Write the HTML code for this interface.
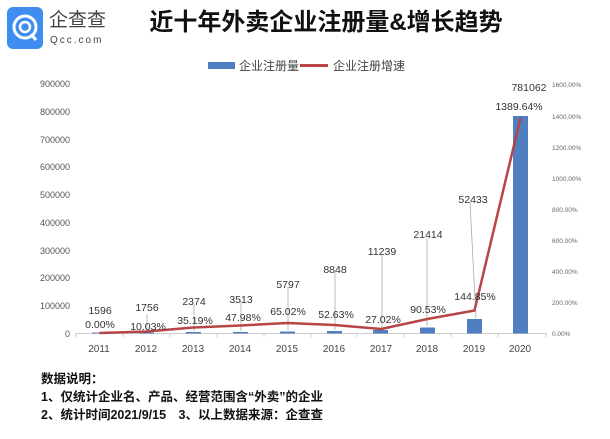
<!DOCTYPE html>
<html><head><meta charset="utf-8"><style>
body{margin:0;background:#fff;width:610px;height:434px;overflow:hidden;font-family:"Liberation Sans","Noto Sans CJK SC",sans-serif}
</style></head><body>
<svg width="610" height="434" xmlns="http://www.w3.org/2000/svg" font-family="Liberation Sans, Noto Sans CJK SC, sans-serif">
<rect x="7" y="7" width="36" height="42" rx="6" fill="#3d8ef0"/>
<circle cx="25" cy="27" r="11" fill="none" stroke="#fff" stroke-width="3"/>
<circle cx="25" cy="27" r="5" fill="none" stroke="#fff" stroke-width="2.5"/>
<line x1="31" y1="34" x2="36" y2="40" stroke="#fff" stroke-width="3"/>
<text x="49" y="26" font-size="19" fill="#444">企查查</text>
<text x="50" y="43" font-size="10" fill="#444" letter-spacing="2">Qcc.com</text>
<text x="326" y="30" font-size="24" font-weight="bold" text-anchor="middle" fill="#111">近十年外卖企业注册量&amp;增长趋势</text>
<rect x="208" y="62" width="27" height="7" fill="#4f7fc0"/>
<text x="239" y="70" font-size="12" fill="#444">企业注册量</text>
<line x1="300" y1="65.5" x2="328" y2="65.5" stroke="#b84545" stroke-width="3"/>
<text x="333" y="70" font-size="12" fill="#444">企业注册增速</text>
<g font-size="9" fill="#555" text-anchor="end">
<text x="70" y="87">900000</text><text x="70" y="115">800000</text><text x="70" y="143">700000</text><text x="70" y="170">600000</text><text x="70" y="198">500000</text><text x="70" y="226">400000</text><text x="70" y="254">300000</text><text x="70" y="281">200000</text><text x="70" y="309">100000</text><text x="70" y="337">0</text>
</g>
<g font-size="6.5" fill="#666">
<text x="552" y="87">1600.00%</text><text x="552" y="119">1400.00%</text><text x="552" y="150">1200.00%</text><text x="552" y="181">1000.00%</text><text x="552" y="212">800.00%</text><text x="552" y="243">600.00%</text><text x="552" y="274">400.00%</text><text x="552" y="305">200.00%</text><text x="552" y="336">0.00%</text>
</g>
<line x1="76" y1="333.5" x2="546" y2="333.5" stroke="#ccc"/>
<g stroke="#ccc"><line x1="76" y1="333" x2="76" y2="337"/><line x1="123" y1="333" x2="123" y2="337"/><line x1="170" y1="333" x2="170" y2="337"/><line x1="217" y1="333" x2="217" y2="337"/><line x1="264" y1="333" x2="264" y2="337"/><line x1="311" y1="333" x2="311" y2="337"/><line x1="357" y1="333" x2="357" y2="337"/><line x1="404" y1="333" x2="404" y2="337"/><line x1="451" y1="333" x2="451" y2="337"/><line x1="498" y1="333" x2="498" y2="337"/><line x1="546" y1="333" x2="546" y2="337"/></g>
<g fill="#4f7fc0">
<rect x="92" y="332.5" width="15" height="1"/><rect x="139" y="332.5" width="15" height="1"/><rect x="186" y="332" width="15" height="1.5"/><rect x="233" y="332" width="15" height="1.5"/><rect x="280" y="331.5" width="15" height="2"/><rect x="327" y="331" width="15" height="2.5"/><rect x="373" y="330" width="15" height="3.5"/><rect x="420" y="327.5" width="15" height="6"/><rect x="467" y="319" width="15" height="14.5"/><rect x="513" y="116" width="15" height="217.5"/>
</g>
<g stroke="#aaa" stroke-width="0.8">
<line x1="147" y1="314" x2="147" y2="332"/><line x1="194" y1="304" x2="194" y2="331"/><line x1="241" y1="301" x2="241" y2="331"/><line x1="288" y1="287" x2="288" y2="330"/><line x1="335" y1="272" x2="335" y2="330"/><line x1="382" y1="254" x2="382" y2="329"/><line x1="427" y1="238" x2="427" y2="326"/><line x1="470" y1="202" x2="476" y2="318"/>
</g>
<polyline points="99.5,333 146.5,331.5 193.5,327.5 240.5,325.5 287.5,323 334.5,325 381,329 427.5,319 474.5,310.5 520.5,118" fill="none" stroke="#b84545" stroke-width="2.5" stroke-linejoin="round"/>
<g font-size="10.5" fill="#333" text-anchor="middle">
<text x="100" y="314">1596</text><text x="147" y="311">1756</text><text x="194" y="305">2374</text><text x="241" y="303">3513</text><text x="288" y="288">5797</text><text x="335" y="273">8848</text><text x="382" y="255">11239</text><text x="428" y="238">21414</text><text x="473" y="203">52433</text><text x="529" y="91">781062</text>
<text x="100" y="328">0.00%</text><text x="148" y="330">10.03%</text><text x="195" y="324">35.19%</text><text x="243" y="321">47.98%</text><text x="288" y="315">65.02%</text><text x="336" y="318">52.63%</text><text x="383" y="323">27.02%</text><text x="428" y="313">90.53%</text><text x="475" y="300">144.85%</text><text x="519" y="110">1389.64%</text>
</g>
<g font-size="10" fill="#444" text-anchor="middle">
<text x="99" y="352">2011</text><text x="146" y="352">2012</text><text x="193" y="352">2013</text><text x="240" y="352">2014</text><text x="287" y="352">2015</text><text x="334" y="352">2016</text><text x="381" y="352">2017</text><text x="427" y="352">2018</text><text x="474" y="352">2019</text><text x="520" y="352">2020</text>
</g>
<g font-size="12.5" font-weight="bold" fill="#111">
<text x="41" y="383">数据说明：</text>
<text x="41" y="401">1、仅统计企业名、产品、经营范围含“外卖”的企业</text>
<text x="41" y="419">2、统计时间2021/9/15　3、以上数据来源：企查查</text>
</g>
</svg>
</body></html>
